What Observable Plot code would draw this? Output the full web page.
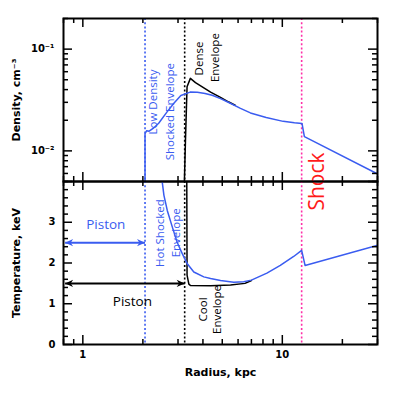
<!DOCTYPE html>
<html><head><meta charset="utf-8">
<script src="https://cdn.jsdelivr.net/npm/d3@7"></script>
<script src="https://cdn.jsdelivr.net/npm/@observablehq/plot@0.6"></script>
<style>
body{margin:0;background:#fff}
#chart{position:relative;width:407px;height:395px;background:#fff}
#chart svg{position:absolute;left:0;top:0;overflow:visible;background:transparent}
</style></head><body><div id="chart"></div>
<script>
// ---------- data ----------
const xDomain = [0.8, 30];
const densDomain = [0.005, 0.2];
const tempDomain = [0, 4];
const xMajor = [1, 10];
const xMinor = [0.8, 0.9, 2, 3, 4, 5, 6, 7, 8, 9, 20, 30];
const densMajor = [0.01, 0.1];
const densTickLabels = ["10⁻²", "10⁻¹"];
const densMinor = [0.005, 0.006, 0.007, 0.008, 0.009, 0.02, 0.03, 0.04, 0.05, 0.06, 0.07, 0.08, 0.09, 0.2];
const tempMajor = [0, 1, 2, 3, 4];
const tempLabelTicks = [0, 1, 2, 3];
const tempMinor = [0.2, 0.4, 0.6, 0.8, 1.2, 1.4, 1.6, 1.8, 2.2, 2.4, 2.6, 2.8, 3.2, 3.4, 3.6, 3.8];

// radius (kpc), density (cm^-3)
const densityBlue = [[2.05,0.004],[2.05,0.0148],[2.09,0.0158],[2.15,0.0156],[2.25,0.0166],[2.4,0.0187],
  [2.65,0.0243],[2.86,0.0294],[3.1,0.035],[3.45,0.0378],[3.75,0.0376],[4.1,0.0366],[4.45,0.0352],
  [4.9,0.0326],[5.39,0.0299],[6.17,0.0262],[6.92,0.0236],[8.3,0.0213],[10.1,0.0195],[11.5,0.0189],[12.55,0.0186],
  [12.9,0.0138],[29.9,0.00595]];
const densityBlack = [[3.22,0.004],[3.27,0.0128],[3.33,0.0427],[3.46,0.0516],[3.67,0.0468],[4.37,0.0378],
  [4.9,0.0336],[5.39,0.0302],[5.8,0.0281]];
// radius (kpc), temperature (keV)
const tempBlue = [[2.47,4.5],[2.5,3.99],[2.55,3.66],[2.65,3.29],[2.81,2.88],[2.97,2.51],[3.15,2.23],
  [3.34,1.98],[3.6,1.78],[4.04,1.66],[4.37,1.62],[4.9,1.57],[5.71,1.53],[6.4,1.54],[7.0,1.58],
  [8.37,1.75],[9.77,1.94],[11.4,2.16],[12.5,2.31],[13.0,1.94],[29.8,2.43]];
const tempBlack = [[3.31,6],[3.33,1.7],[3.4,1.48],[3.46,1.45],[4.37,1.44],[5.5,1.46],[6.5,1.5],[7.0,1.57]];

const boundaries = [{r: 2.05, c: "#3a5cf0"}, {r: 3.24, c: "#000000"}, {r: 12.5, c: "#ff2fa8"}];
const pistons = [{x1: 0.815, x2: 2.05, y: 2.5, c: "#3a5cf0", label: "Piston", lx: 1.303, ly: 2.93},
                 {x1: 0.815, x2: 3.24, y: 1.5, c: "#000000", label: "Piston", lx: 1.772, ly: 1.05}];
const topLabelsBlue = [{t: "Low Density", r: 2.257, v: 0.0302}, {t: "Shocked Envelope", r: 2.732, v: 0.0243}];
const topLabelsBlack = [{t: "Dense", r: 3.815, v: 0.0809}, {t: "Envelope", r: 4.62, v: 0.0825}];
const botLabelsBlue = [{t: "Hot Shocked", r: 2.435, v: 2.735}, {t: "Envelope", r: 2.94, v: 2.74}];
const botLabelsBlack = [{t: "Cool", r: 4.004, v: 0.86}, {t: "Envelope", r: 4.716, v: 0.86}];
const shockLabel = [{t: "Shock", r: 14.91, v: 4.0}];

// ---------- layout ----------
const BLUE = "#3a5cf0";
const ML = 63, MR = 30, FH = 163, FW = 407 - ML - MR;
const annFont = "Open Sans";
const axFont = "DejaVu Sans";

const headRight = {draw(ctx, size) { const r = Math.sqrt(size / Math.PI); const L = 2 * r, W = 0.9 * r;
  ctx.moveTo(0, 0); ctx.lineTo(-L, -W); ctx.lineTo(-0.7 * L, 0); ctx.lineTo(-L, W); ctx.closePath(); }};
const headLeft = {draw(ctx, size) { const r = Math.sqrt(size / Math.PI); const L = 2 * r, W = 0.9 * r;
  ctx.moveTo(0, 0); ctx.lineTo(L, -W); ctx.lineTo(0.7 * L, 0); ctx.lineTo(L, W); ctx.closePath(); }};

function xTicks() {
  return [
    Plot.ruleX(xMajor, {x: d => d, insetTop: FH - 9, strokeWidth: 1.5}),
    Plot.ruleX(xMinor, {x: d => d, insetTop: FH - 5, strokeWidth: 1.5}),
    Plot.ruleX(xMajor, {x: d => d, insetBottom: FH - 9, strokeWidth: 1.5}),
    Plot.ruleX(xMinor, {x: d => d, insetBottom: FH - 5, strokeWidth: 1.5})
  ];
}
function yTicks(major, minor) {
  return [
    Plot.ruleY(major, {y: d => d, insetRight: FW - 9, strokeWidth: 1.5}),
    Plot.ruleY(minor, {y: d => d, insetRight: FW - 5, strokeWidth: 1.5}),
    Plot.ruleY(major, {y: d => d, insetLeft: FW - 9, strokeWidth: 1.5}),
    Plot.ruleY(minor, {y: d => d, insetLeft: FW - 5, strokeWidth: 1.5})
  ];
}
function vlines() {
  return boundaries.map(b => Plot.ruleX([b.r], {x: d => d, stroke: b.c, strokeWidth: 1.6, strokeDasharray: "2,2.2"}));
}
function rotLabels(data, color, size) {
  return Plot.text(data, {x: "r", y: "v", text: "t", rotate: -90, fill: color, fontSize: size,
    fontFamily: annFont, fontWeight: "normal", textAnchor: "middle", lineAnchor: "middle"});
}

const topPlot = Plot.plot({
  width: 407, height: 200, marginLeft: ML, marginRight: MR, marginTop: 18, marginBottom: 19,
  style: {background: "transparent", fontFamily: axFont, fontSize: "10px", fontWeight: "bold", color: "black", overflow: "visible"},
  x: {type: "log", domain: xDomain, axis: null},
  y: {type: "log", domain: densDomain, ticks: densMajor, tickSize: 0, tickPadding: 9,
      tickFormat: d => densTickLabels[densMajor.indexOf(d)], label: null},
  marks: [
    ...vlines(),
    Plot.line(densityBlack, {x: d => d[0], y: d => d[1], stroke: "black", strokeWidth: 1.5, clip: true}),
    Plot.line(densityBlue, {x: d => d[0], y: d => d[1], stroke: BLUE, strokeWidth: 1.5, clip: true}),
    rotLabels(topLabelsBlue, BLUE, 11.5),
    rotLabels(topLabelsBlack, "black", 11.5),
    ...xTicks(),
    ...yTicks(densMajor, densMinor),
    Plot.frame({stroke: "black", strokeWidth: 2}),
    Plot.text(["Density, cm⁻³"], {text: d => d, frameAnchor: "left", dx: -47, rotate: -90,
      textAnchor: "middle", lineAnchor: "middle", fontSize: 11, fontFamily: axFont, fontWeight: "bold"})
  ]
});

const botPlot = Plot.plot({
  width: 407, height: 395, marginLeft: ML, marginRight: MR, marginTop: 181, marginBottom: 51,
  style: {background: "transparent", fontFamily: axFont, fontSize: "10px", fontWeight: "bold", color: "black", overflow: "visible"},
  x: {type: "log", domain: xDomain, ticks: xMajor, tickSize: 0, tickPadding: 6, tickFormat: d => String(d), label: null},
  y: {domain: tempDomain, ticks: tempLabelTicks, tickSize: 0, tickPadding: 8, tickFormat: d => String(d), label: null},
  marks: [
    ...vlines(),
    Plot.line(tempBlack, {x: d => d[0], y: d => d[1], stroke: "black", strokeWidth: 1.5, clip: true}),
    Plot.line(tempBlue, {x: d => d[0], y: d => d[1], stroke: BLUE, strokeWidth: 1.5, clip: true}),
    ...pistons.map(p => Plot.link([p], {x1: "x1", x2: "x2", y1: "y", y2: "y", stroke: p.c, strokeWidth: 2})),
    ...pistons.map(p => Plot.dot([p], {x: "x1", y: "y", symbol: headLeft, r: 4, fill: p.c, stroke: "none"})),
    ...pistons.map(p => Plot.dot([p], {x: "x2", y: "y", symbol: headRight, r: 4, fill: p.c, stroke: "none"})),
    ...pistons.map(p => Plot.text([p], {x: "lx", y: "ly", text: "label", fill: p.c, fontSize: 13.5,
      fontFamily: annFont, fontWeight: "normal"})),
    rotLabels(botLabelsBlue, BLUE, 11.5),
    rotLabels(botLabelsBlack, "black", 11.5),
    rotLabels(shockLabel, "#ff1a1a", 21),
    ...xTicks(),
    ...yTicks(tempMajor, tempMinor),
    Plot.frame({stroke: "black", strokeWidth: 2}),
    Plot.text(["Temperature, keV"], {text: d => d, frameAnchor: "left", dx: -47, rotate: -90,
      textAnchor: "middle", lineAnchor: "middle", fontSize: 11, fontFamily: axFont, fontWeight: "bold"}),
    Plot.text(["Radius, kpc"], {text: d => d, frameAnchor: "bottom", dy: 28,
      textAnchor: "middle", lineAnchor: "middle", fontSize: 11, fontFamily: axFont, fontWeight: "bold"})
  ]
});

const chart = document.getElementById("chart");
chart.appendChild(topPlot);
chart.appendChild(botPlot);
</script>
</body></html>
